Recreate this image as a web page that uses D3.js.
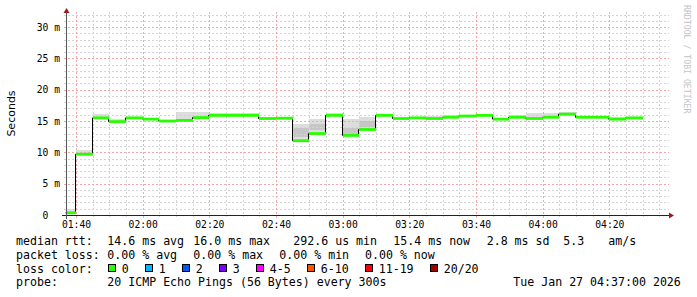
<!DOCTYPE html>
<html><head><meta charset="utf-8">
<script src="https://cdn.jsdelivr.net/npm/d3@7"></script>
<style>body{margin:0;background:#fff}svg{display:block}</style>
</head><body><svg id="c" width="697" height="297"></svg>
<script>
// ---- data ----
const timeStart = "01:37", timeEnd = "04:37";
const stepStart = ["01:35","01:40","01:45","01:50","01:55","02:00","02:05","02:10","02:15","02:20","02:25","02:30","02:35","02:40","02:45","02:50","02:55","03:00","03:05","03:10","03:15","03:20","03:25","03:30","03:35","03:40","03:45","03:50","03:55","04:00","04:05","04:10","04:15","04:20","04:25"];
const lastStepEnd = "04:30";
const medianMs = [0.35,9.7,15.5,14.9,15.5,15.3,15.0,15.1,15.55,15.9,15.9,15.9,15.4,15.45,11.85,13.0,15.9,12.7,13.65,15.9,15.4,15.5,15.4,15.6,15.8,15.9,15.3,15.6,15.4,15.6,16.1,15.6,15.6,15.3,15.5];
const smokeHi  = [0.9,10.4,16.1,15.4,15.6,15.4,15.1,16.4,16.4,16.3,16.2,16.2,15.5,15.6,14.6,15.4,16.2,15.4,15.7,16.1,15.5,15.6,15.8,16.0,15.9,16.0,15.4,16.0,16.3,16.3,16.5,15.7,15.7,15.6,15.6];
const smokeLo  = [0.2,9.6,15.4,14.8,15.4,15.2,14.9,15.0,15.4,15.8,15.8,15.8,15.3,15.3,11.9,13.2,15.8,12.9,13.8,15.8,15.3,15.4,15.3,15.5,15.7,15.8,15.2,15.5,15.3,15.5,16.0,15.5,15.5,15.2,15.4];
const coreLo   = [null,null,null,null,null,null,null,null,null,null,null,null,null,null,12.5,13.6,null,12.9,14.0,null,null,null,null,null,null,null,null,null,null,null,null,null,null,null,null];
const coreHi   = [null,null,null,null,null,null,null,null,null,null,null,null,null,null,13.9,14.6,null,13.9,15.0,null,null,null,null,null,null,null,null,null,null,null,null,null,null,null,null];
const yTicks = [0,5,10,15,20,25,30];
const yTickLabels = ["0\u00a0\u00a0","5 m","10 m","15 m","20 m","25 m","30 m"];
const xTickLabels = ["01:40","02:00","02:20","02:40","03:00","03:20","03:40","04:00","04:20"];
const yTitle = "Seconds";
const rowMedian = [["median rtt:",16],["14.6 ms avg",107.3],["16.0 ms max",193.3],["292.6 us min",293.3],["15.4 ms now",393.3],["2.8 ms sd",486.7],["5.3",563.3],["am/s",608.3]];
const rowLoss = [["packet loss:",16],["0.00 % avg",107.3],["0.00 % max",193.3],["0.00 % min",279.3],["0.00 % now",365]];
const lossLabels = ["0","1","2","3","4-5","6-10","11-19","20/20"];
const lossColors = ["#26ff00","#00b8ff","#0059ff","#7e00ff","#ff00ff","#ff5500","#ff0000","#a10000"];
const rowProbe = [["probe:",16],["20 ICMP Echo Pings (56 Bytes) every 300s",107.3],["Tue Jan 27 04:37:00 2026",513.3]];
const watermark = "RRDTOOL / TOBI OETIKER";

// ---- drawing ----
const svg = d3.select("#c");
const parseT = d3.timeParse("%H:%M");
const t0 = parseT(timeStart), t1 = parseT(timeEnd);
const x = d3.scaleTime().domain([t0, t1]).range([66, 666]).clamp(true);
const y = d3.scaleLinear().domain([0, 32]).range([215, 14.5]);
const mono = "'DejaVu Sans Mono', monospace";
const cx = v => Math.round(x(v)) + 0.5;
const cy = v => Math.round(y(v)) + 0.5;

const steps = stepStart.map((s, i) => ({
  t: parseT(s), e: parseT(i + 1 < stepStart.length ? stepStart[i + 1] : lastStepEnd),
  m: medianMs[i], hi: smokeHi[i], lo: smokeLo[i], clo: coreLo[i], chi: coreHi[i]
}));

// smoke
const gS = svg.append("g").attr("shape-rendering", "crispEdges");
gS.selectAll("rect.s").data(steps).join("rect").attr("class", "s")
  .attr("x", d => Math.round(x(d.t))).attr("width", d => Math.round(x(d.e)) - Math.round(x(d.t)))
  .attr("y", d => y(d.hi)).attr("height", d => y(d.lo) - y(d.hi)).attr("fill", "#dddddd");
gS.selectAll("rect.c").data(steps.filter(d => d.clo != null)).join("rect").attr("class", "c")
  .attr("x", d => Math.round(x(d.t))).attr("width", d => Math.round(x(d.e)) - Math.round(x(d.t)))
  .attr("y", d => y(d.chi)).attr("height", d => y(d.clo) - y(d.chi)).attr("fill", "#c6c6c6");

// grid
const gG = svg.append("g").attr("shape-rendering", "crispEdges").attr("stroke-dasharray", "2,2").attr("stroke-width", 1);
const minorY = d3.range(1, 33).filter(v => v % 5 !== 0);
const majorY = d3.range(5, 33, 5);
const minorX = d3.timeMinute.every(5).range(d3.timeMinute.offset(t0, 1), t1).filter(d => d.getMinutes() % 20 !== 0);
const majorX = d3.timeMinute.every(20).range(t0, t1);
gG.selectAll("line.hy").data(minorY).join("line").attr("x1", 64).attr("x2", 669).attr("y1", cy).attr("y2", cy).attr("stroke", "#d4d4d4");
gG.selectAll("line.vx").data(minorX).join("line").attr("x1", cx).attr("x2", cx).attr("y1", 12).attr("y2", 217).attr("stroke", "#d4d4d4");
gG.selectAll("line.my").data(majorY).join("line").attr("x1", 64).attr("x2", 669).attr("y1", cy).attr("y2", cy).attr("stroke", "#f2a8a8");
gG.selectAll("line.mx").data(majorX).join("line").attr("x1", cx).attr("x2", cx).attr("y1", 12).attr("y2", 218).attr("stroke", "#f2a8a8");

// median black step line
const pts = steps.map(d => ({t: d.t, m: d.m})).concat([{t: steps[steps.length - 1].e, m: steps[steps.length - 1].m}]);
svg.append("path").datum(pts)
  .attr("d", d3.line().x(d => Math.round(x(d.t)) - 0.5).y(d => y(d.m)).curve(d3.curveStepAfter))
  .attr("fill", "none").attr("stroke", "#000").attr("stroke-width", 1);
// green median bands
svg.append("g").selectAll("rect").data(steps).join("rect")
  .attr("x", d => Math.round(x(d.t))).attr("width", d => Math.round(x(d.e)) - Math.round(x(d.t)))
  .attr("y", d => y(d.m) - 1.4).attr("height", 2.8).attr("fill", lossColors[0]);

// axes lines
const gA = svg.append("g").attr("shape-rendering", "crispEdges");
gA.append("line").attr("x1", 62).attr("x2", 670).attr("y1", 215.5).attr("y2", 215.5).attr("stroke", "#222");
gA.append("line").attr("x1", 66.5).attr("x2", 66.5).attr("y1", 219).attr("y2", 12).attr("stroke", "#555");
svg.append("path").attr("d", "M669,212.5L674,215.5L669,218.5Z").attr("fill", "#9b1c1c");
svg.append("path").attr("d", "M63.5,13L66.5,8L69.5,13Z").attr("fill", "#9b1c1c");

// tick labels via d3 axes
const ya = svg.append("g").attr("transform", "translate(66,0)")
  .call(d3.axisLeft(y).tickValues(yTicks).tickFormat((d, i) => yTickLabels[i]).tickSize(0).tickPadding(6));
const xa = svg.append("g").attr("transform", "translate(0,215)")
  .call(d3.axisBottom(x).tickValues(xTickLabels.map(parseT)).tickFormat((d, i) => xTickLabels[i]).tickSize(0).tickPadding(6));
[ya, xa].forEach(a => {
  a.select(".domain").remove();
  a.selectAll("text").attr("font-family", mono).attr("font-size", "9.7px").attr("fill", "#000");
});

// y title
svg.append("text").attr("transform", "translate(14.5,113.5) rotate(-90)").attr("text-anchor", "middle")
  .attr("font-family", "'DejaVu Sans', sans-serif").attr("font-size", "11px").attr("fill", "#000").text(yTitle);

// watermark
svg.append("text").attr("transform", "translate(684,5) rotate(90)").attr("font-family", mono)
  .attr("font-size", "8.2px").attr("fill", "#c4c4c4").text(watermark);

// legend
const leg = svg.append("g").attr("font-family", mono).attr("font-size", "11.6px").attr("fill", "#000").attr("xml:space", "preserve");
const rowText = (row, base) => row.forEach(([s, px]) => leg.append("text").attr("x", px).attr("y", base).text(s));
rowText(rowMedian, 245);
rowText(rowLoss, 258.8);
rowText([["loss color:", 16]], 272.5);
rowText(rowProbe, 286.3);
let bx = 108.3;
lossLabels.forEach((l, i) => {
  const b = Math.round(bx);
  leg.append("rect").attr("x", b + 0.5).attr("y", 264.5).attr("width", 7).attr("height", 7)
    .attr("fill", lossColors[i]).attr("stroke", "#000").attr("stroke-width", 1).attr("shape-rendering", "crispEdges");
  leg.append("text").attr("x", bx + 13.4).attr("y", 272.5).text(l);
  bx += 30 + 7 * l.length;
});
</script></body></html>
